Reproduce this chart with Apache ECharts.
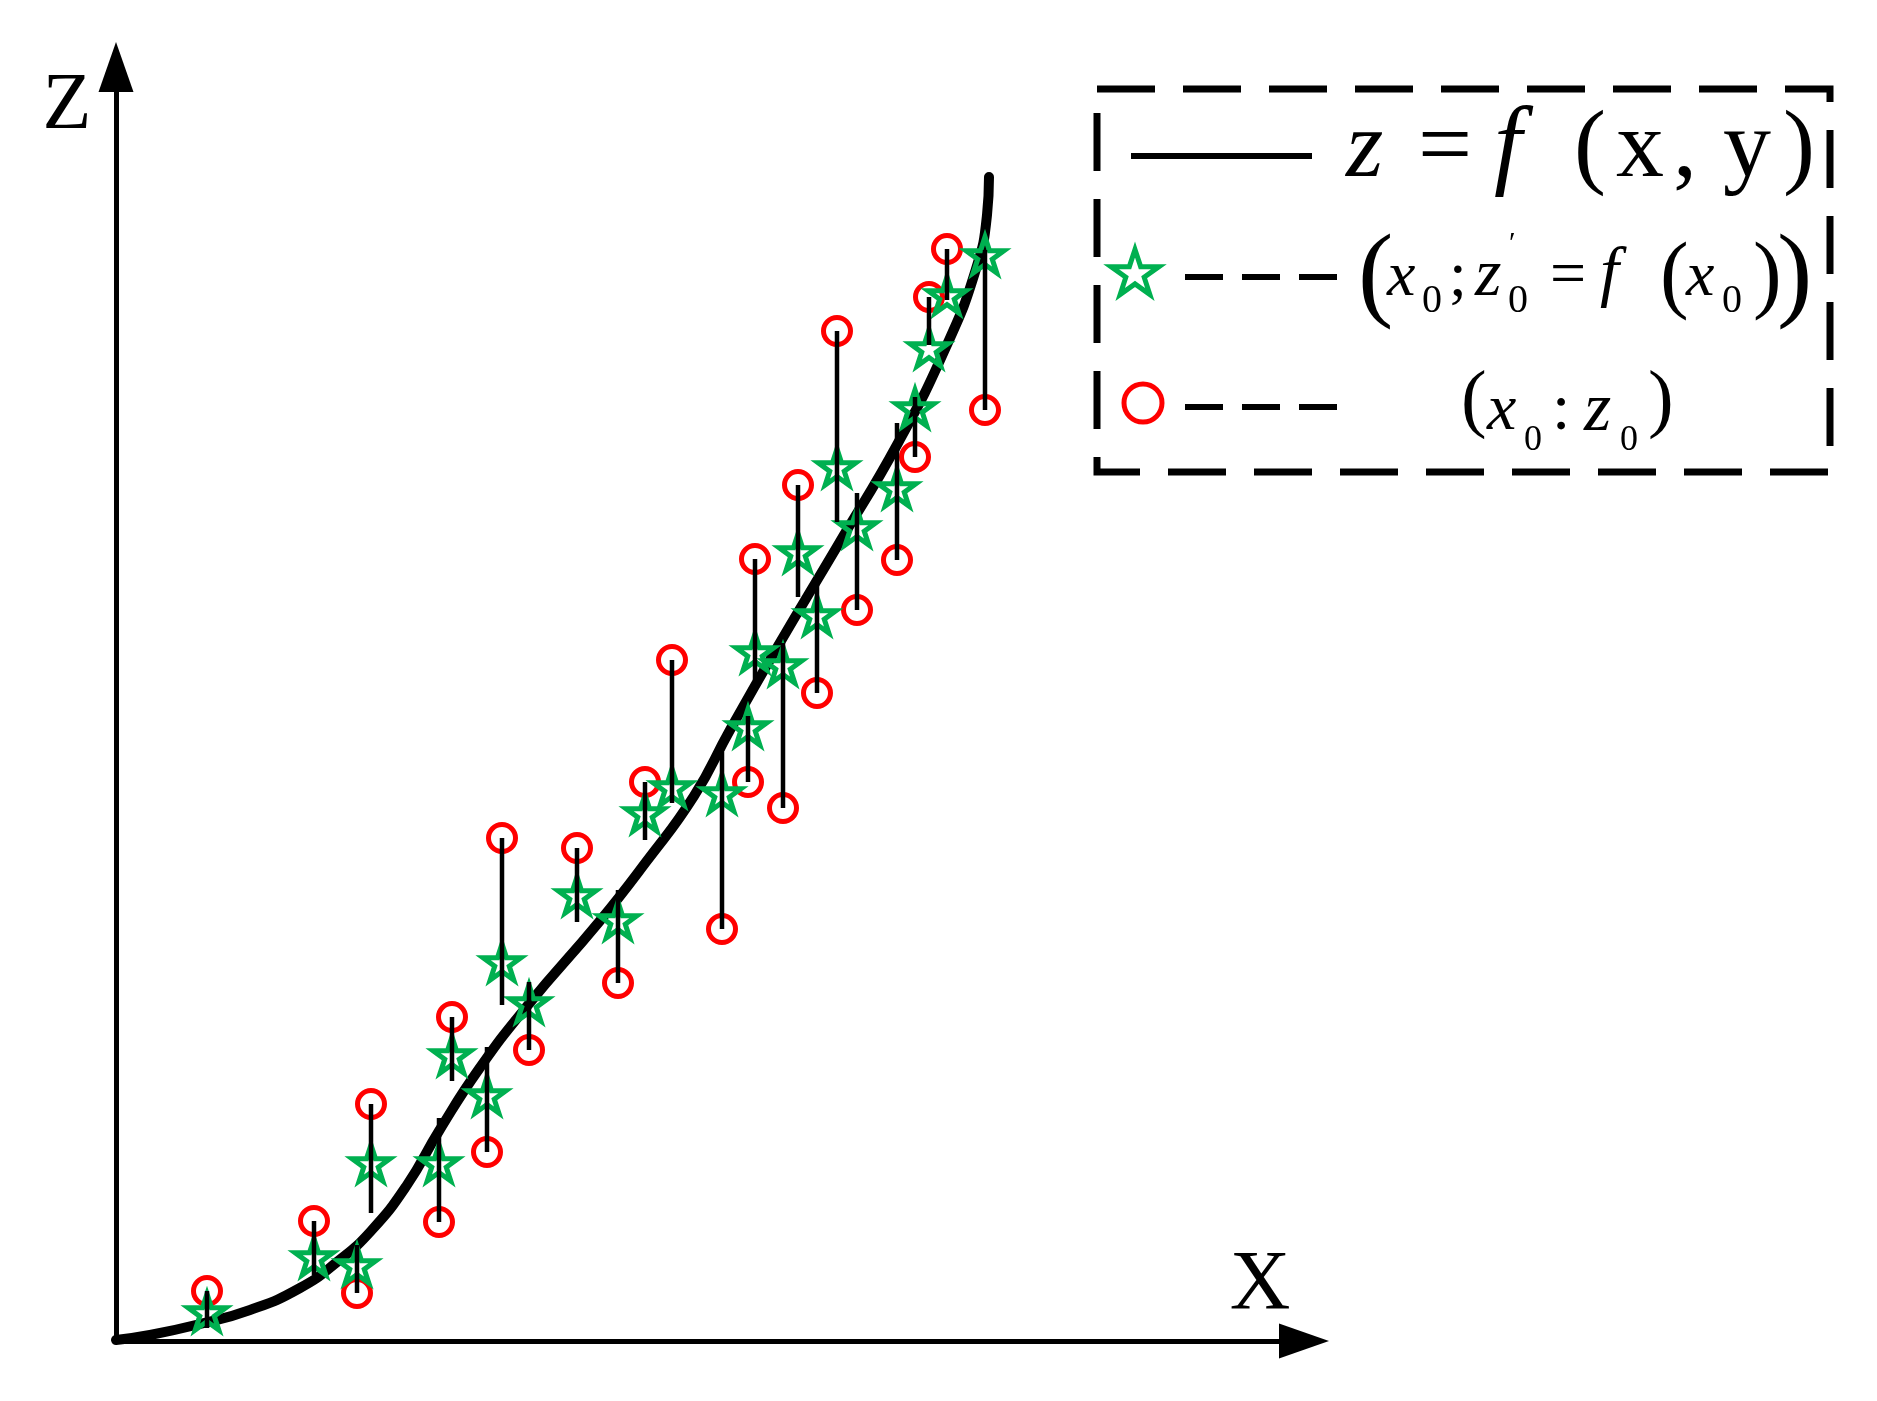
<!DOCTYPE html>
<html>
<head>
<meta charset="utf-8">
<script src="https://cdn.jsdelivr.net/npm/echarts@6/dist/echarts.min.js"></script>
<style>
  html, body { margin: 0; padding: 0; background: #fff; }
  #chart { width: 1877px; height: 1401px; }
</style>
</head>
<body>
<div id="chart"></div>
<script>
// fitted surface section z = f(x, y)
const curveX = [0, 3.4, 8.4, 13.4, 18.4, 22.1, 25.5, 29.1, 32.3, 36.3, 41.2, 48.3, 53.0, 57.8,
  61.4, 66.2, 72.2, 78.2, 83.0, 86.0, 87.1, 87.3];
const curveZ = [0.1, 0.6, 1.7, 3.1, 5.3, 7.9, 11.0, 15.6, 21.0, 27.2, 33.6, 41.9, 47.9, 54.5,
  61.1, 69.5, 79.6, 89.8, 99.4, 107.2, 112.6, 116.4];

// sample points x0, measured z0, projected z0' and where the link meets the curve
const sampleX = [9.1, 19.8, 24.1, 25.5, 32.3, 33.6, 37.1, 38.6, 41.3, 46.1, 50.2, 52.9, 55.6,
  60.6, 63.2, 63.9, 66.7, 68.2, 70.1, 72.1, 74.1, 78.1, 79.9, 81.3, 83.1, 86.9];
const observedZ = [5.0, 12.0, 4.8, 23.7, 11.9, 32.4, 18.9, 50.3, 29.1, 49.3, 35.8, 55.9, 68.1,
  41.2, 55.9, 78.2, 53.3, 85.6, 64.8, 101.0, 73.1, 78.1, 88.4, 104.4, 109.2, 93.1];
const fittedZ = [2.9, 8.4, 7.6, 17.8, 17.8, 28.6, 24.6, 37.9, 33.8, 44.6, 42.1, 52.8, 55.4,
  54.8, 61.4, 68.9, 67.6, 78.9, 72.6, 87.4, 81.4, 85.3, 93.3, 99.3, 104.6, 108.6];
const linkZ = [1.3, 6.6, 9.6, 12.8, 22.3, 26.0, 29.4, 33.6, 35.9, 41.9, 45.1, 50.1, 53.8,
  58.9, 62.5, 66.1, 69.8, 74.4, 76.4, 81.9, 84.8, 91.8, 94.4, 99.6, 104.1, 109.1];

const axisNames = ['X', 'Z'];

const GREEN = '#00b050';
const RED = '#ff0000';
const FONT = '"Liberation Serif", "Times New Roman", serif';
const STAR_PTS = [[0, -50], [11.2, -15.5], [47.6, -15.5], [18.2, 5.9], [29.4, 40.5], [0, 19.1],
  [-29.4, 40.5], [-18.2, 5.9], [-47.6, -15.5], [-11.2, -15.5]];
const STAR = 'path://M' + STAR_PTS.map(p => p.join(',')).join('L') + 'Z';

const curveData = curveX.map((x, i) => [x, curveZ[i]]);
const observedData = sampleX.map((x, i) => [x, observedZ[i]]);
const fittedData = sampleX.map((x, i) => [x, fittedZ[i]]);
const linkData = sampleX.map((x, i) => [x, observedZ[i], linkZ[i]]);

// star outline fitted into a w x h box centred on (cx, cy)
function starPoints(cx, cy, w, h) {
  return STAR_PTS.map(p => [cx + p[0] / 95.2 * w, cy + (p[1] + 4.75) / 90.5 * h]);
}

// text placed by baseline
const MID = 0.265;
function tx(text, x, base, size, italic) {
  return {
    type: 'text', x: x, y: base - MID * size, z: 100,
    style: {
      text: text, fontFamily: FONT, fontSize: size,
      fontStyle: italic ? 'italic' : 'normal', fill: '#000',
      align: 'left', verticalAlign: 'middle'
    }
  };
}
// bracket placed by its visual centre
function br(text, x, centre, size) {
  return {
    type: 'text', x: x, y: centre - 0.015 * size, z: 100,
    style: { text: text, fontFamily: FONT, fontSize: size, fill: '#000', align: 'left', verticalAlign: 'middle' }
  };
}

const legendGraphics = [
  { type: 'rect', z: 100, shape: { x: 1097, y: 89, width: 733, height: 383 },
    style: { fill: 'none', stroke: '#000', lineWidth: 7, lineDash: [58, 28] } },
  // row 1
  { type: 'line', z: 100, shape: { x1: 1131, y1: 156, x2: 1312, y2: 156 },
    style: { stroke: '#000', lineWidth: 6 } },
  tx('z', 1346, 176, 96, true),
  tx('=', 1418, 176, 96),
  tx('f', 1494, 176, 100, true),
  tx('(', 1574, 176, 96),
  tx('x', 1616, 176, 96),
  tx(',', 1673, 176, 96),
  tx('y', 1723, 176, 96),
  tx(')', 1783, 176, 96),
  // row 2
  { type: 'polygon', z: 100, shape: { points: starPoints(1135, 272, 48, 45) },
    style: { fill: 'none', stroke: GREEN, lineWidth: 5 } },
  { type: 'line', z: 100, shape: { x1: 1185, y1: 277, x2: 1338, y2: 277 },
    style: { stroke: '#000', lineWidth: 6, lineDash: [38, 19] } },
  br('(', 1358, 281, 106),
  tx('x', 1387, 295, 64, true),
  tx('0', 1422, 312, 40),
  tx(';', 1449, 295, 64),
  tx('z', 1475, 295, 68, true),
  tx('\u2032', 1509, 252, 30),
  tx('0', 1508, 312, 40),
  tx('=', 1550, 294, 64),
  tx('f', 1600, 294, 68, true),
  br('(', 1660, 281, 86),
  tx('x', 1686, 295, 64, true),
  tx('0', 1722, 312, 40),
  br(')', 1753, 281, 86),
  br(')', 1777, 281, 106),
  // row 3
  { type: 'circle', z: 100, shape: { cx: 1143, cy: 403, r: 19 },
    style: { fill: 'none', stroke: RED, lineWidth: 5 } },
  { type: 'line', z: 100, shape: { x1: 1185, y1: 407, x2: 1338, y2: 407 },
    style: { stroke: '#000', lineWidth: 6, lineDash: [38, 19] } },
  br('(', 1461, 404, 77),
  tx('x', 1487, 429, 66, true),
  tx('0', 1524, 450, 36),
  tx(':', 1552, 429, 66),
  tx('z', 1584, 430, 70, true),
  tx('0', 1620, 450, 36),
  br(')', 1648, 404, 77),
  // axis names
  { type: 'text', z: 100, x: 67, y: 107,
    style: { text: axisNames[1], fontFamily: FONT, fontSize: 80, fill: '#000', align: 'center', verticalAlign: 'middle' } },
  { type: 'text', z: 100, x: 1260, y: 1287,
    style: { text: axisNames[0], fontFamily: FONT, fontSize: 84, fill: '#000', align: 'center', verticalAlign: 'middle' } }
];

const axisCommon = {
  type: 'value',
  min: 0,
  axisLine: {
    show: true, onZero: false,
    symbol: ['none', 'triangle'], symbolSize: [35, 50],
    lineStyle: { color: '#000', width: 5 }
  },
  axisTick: { show: false },
  axisLabel: { show: false },
  splitLine: { show: false }
};

const chart = echarts.init(document.getElementById('chart'), null, { renderer: 'canvas' });
chart.setOption({
  backgroundColor: '#fff',
  animation: false,
  grid: { left: 116, right: 573, top: 67, bottom: 60, containLabel: false },
  xAxis: Object.assign({}, axisCommon, { max: 118.8 }),
  yAxis: Object.assign({}, axisCommon, { max: 127.4 }),
  series: [
    {
      name: 'z = f(x, y)', type: 'line', data: curveData, z: 2,
      smooth: 0.5, showSymbol: false,
      lineStyle: { color: '#000', width: 10, cap: 'round', join: 'round' }
    },
    {
      name: '(x0 : z0)', type: 'scatter', data: observedData, z: 3,
      symbol: 'circle', symbolSize: 27,
      itemStyle: { color: 'rgba(0,0,0,0)', borderColor: RED, borderWidth: 5, opacity: 1 }
    },
    {
      name: "(x0 ; z0' = f(x0))", type: 'scatter', data: fittedData, z: 4,
      symbol: STAR, symbolSize: [38, 36],
      itemStyle: { color: 'rgba(0,0,0,0)', borderColor: GREEN, borderWidth: 5, opacity: 1 }
    },
    {
      type: 'custom', data: linkData, z: 5,
      renderItem: (params, api) => {
        const a = api.coord([api.value(0), api.value(1)]);
        const b = api.coord([api.value(0), api.value(2)]);
        return {
          type: 'line',
          shape: { x1: a[0], y1: a[1], x2: b[0], y2: b[1] },
          style: { stroke: '#000', lineWidth: 4.5 }
        };
      }
    }
  ],
  graphic: { elements: legendGraphics }
});
</script>
</body>
</html>
